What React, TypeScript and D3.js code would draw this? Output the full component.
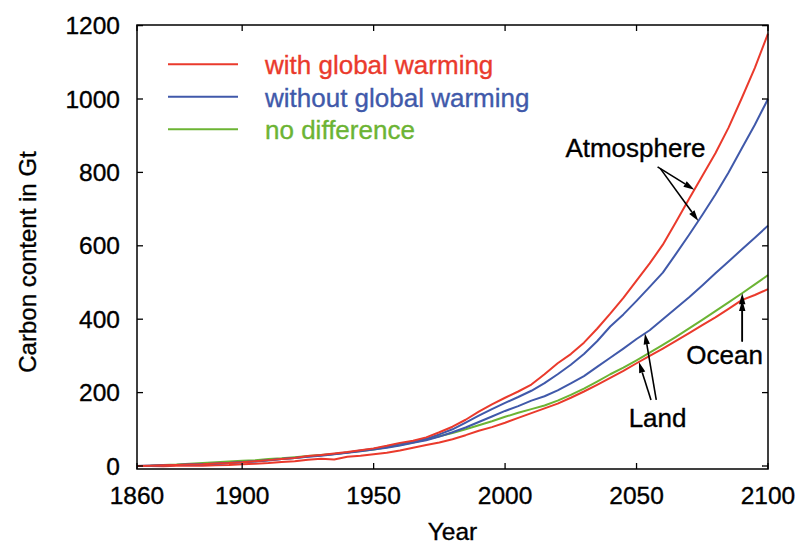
import React from "react";
import * as d3 from "d3";

// Years sampled every 5 years, 1860–2100
const years: number[] = d3.range(1860, 2101, 5);

// Carbon content (Gt) — atmosphere
const atmosWithWarming: number[] = [
  0, 1, 2, 3, 4, 5, 7, 8, 10, 13, 16, 19, 22, 27, 30, 34, 38, 43, 48, 55, 63, 69, 78, 92, 107,
  126, 148, 168, 186, 203, 222, 250, 280, 305, 336, 374, 415, 458, 505, 552, 603, 665, 728, 790,
  852, 922, 1002, 1085, 1178,
];
const atmosWithoutWarming: number[] = [
  0, 1, 2, 3, 4, 5, 6, 8, 10, 12, 15, 19, 22, 26, 29, 33, 37, 42, 47, 53, 61, 67, 74, 86, 100,
  118, 137, 155, 172, 188, 205, 226, 250, 276, 305, 340, 380, 413, 450, 488, 527, 578, 630, 684,
  740, 800, 865, 930, 1000,
];
// Land uptake without warming
const landWithoutWarming: number[] = [
  0, 1, 2, 3, 4, 5, 7, 8, 11, 13, 16, 19, 22, 25, 28, 32, 36, 40, 45, 50, 56, 63, 70, 80, 92,
  105, 120, 135, 150, 163, 178, 190, 206, 225, 245, 270, 295, 320, 346, 370, 400, 430, 460, 492,
  525, 557, 590, 622, 655,
];
// Ocean uptake (identical with and without warming)
const oceanNoDifference: number[] = [
  0, 1, 3, 4, 6, 8, 10, 12, 14, 16, 19, 21, 24, 27, 30, 33, 37, 41, 45, 51, 57, 64, 72, 81, 90,
  100, 111, 122, 134, 145, 155, 165, 178, 194, 211, 230, 250, 268, 288, 309, 330, 352, 375, 398,
  422, 446, 470, 495, 520,
];
// Land uptake with warming
const landWithWarming: number[] = [
  0, 0, -1, 1, 1, 1, 2, 3, 5, 6, 8, 11, 13, 17, 20, 18, 25, 28, 32, 36, 42, 50, 57, 64, 73,
  84, 96, 106, 118, 131, 144, 157, 170, 186, 203, 221, 240, 259, 280, 300, 320, 341, 362, 384,
  405, 428, 452, 466, 482,
];

const xTicks: number[] = [1860, 1900, 1950, 2000, 2050, 2100];
const yTicks: number[] = [0, 200, 400, 600, 800, 1000, 1200];

const legendLabels: string[] = ["with global warming", "without global warming", "no difference"];

const RED = "#ea3a2c";
const BLUE = "#4059aa";
const GREEN = "#6cb434";
const FONT = "'Liberation Sans', Arial, Helvetica, sans-serif";

const W = 800;
const H = 546;
const left = 137;
const right = 768;
const top = 25;
const bottom = 469;

const x = d3.scaleLinear().domain([1860, 2100]).range([left, right]);
const y = d3.scaleLinear().domain([0, 1200]).range([466, 25.6]);

const valueAt = (series: number[], year: number) => {
  const i = Math.min(Math.floor((year - 1860) / 5), series.length - 2);
  const t = (year - years[i]) / 5;
  return d3.interpolateNumber(series[i], series[i + 1])(t);
};

type Tip = { series: number[]; year: number };
type Arrow = { tailYear: number; tailValue: number; tip: Tip };

const arrows: Arrow[] = [
  { tailYear: 2058, tailValue: 815, tip: { series: atmosWithWarming, year: 2072 } },
  { tailYear: 2059, tailValue: 811, tip: { series: atmosWithoutWarming, year: 2073.5 } },
  { tailYear: 2055.5, tailValue: 180, tip: { series: landWithWarming, year: 2050.9 } },
  { tailYear: 2057.5, tailValue: 180, tip: { series: landWithoutWarming, year: 2053.2 } },
  { tailYear: 2090.2, tailValue: 339, tip: { series: oceanNoDifference, year: 2090.2 } },
  { tailYear: 2090.2, tailValue: 339, tip: { series: landWithWarming, year: 2090.2 } },
];

const annotations = [
  { text: "Atmosphere", year: 2049.6, value: 842 },
  { text: "Land", year: 2058, value: 107 },
  { text: "Ocean", year: 2083.5, value: 278 },
];

function ArrowMark({ a }: { a: Arrow }) {
  const x0 = x(a.tailYear);
  const y0 = y(a.tailValue);
  const x1 = x(a.tip.year);
  const y1 = y(valueAt(a.tip.series, a.tip.year));
  const ang = Math.atan2(y1 - y0, x1 - x0);
  const len = 11;
  const hw = 3.2;
  const bx = x1 - len * Math.cos(ang);
  const by = y1 - len * Math.sin(ang);
  const px = -Math.sin(ang) * hw;
  const py = Math.cos(ang) * hw;
  return (
    <g>
      <line x1={x0} y1={y0} x2={bx} y2={by} stroke="#000" strokeWidth={1.6} />
      <polygon points={`${x1},${y1} ${bx + px},${by + py} ${bx - px},${by - py}`} fill="#000" />
    </g>
  );
}

export default function App() {
  const line = d3
    .line<number>()
    .x((_, i) => x(years[i]))
    .y((v) => y(v));

  const series = [
    { data: oceanNoDifference, color: GREEN },
    { data: landWithoutWarming, color: BLUE },
    { data: landWithWarming, color: RED },
    { data: atmosWithoutWarming, color: BLUE },
    { data: atmosWithWarming, color: RED },
  ];

  const legendColors = [RED, BLUE, GREEN];
  const tick = 6;
  const heavy = { strokeWidth: 0.35, paintOrder: "stroke" as const };

  return (
    <svg
      width={W}
      height={H}
      style={{ position: "absolute", left: 0, top: 0, display: "block", background: "#fff" }}
      fontFamily={FONT}
    >
      <rect width={W} height={H} fill="#fff" />
      <g>
        {series.map((s, i) => (
          <path key={i} d={line(s.data) || ""} fill="none" stroke={s.color} strokeWidth={2} strokeLinejoin="round" />
        ))}
      </g>

      {/* frame with mirrored inward ticks */}
      <rect x={left} y={top} width={right - left} height={bottom - top} fill="none" stroke="#000" strokeWidth={1.5} />
      {xTicks.map((t) => (
        <g key={"x" + t}>
          <line x1={x(t)} x2={x(t)} y1={bottom} y2={bottom - tick} stroke="#000" strokeWidth={1.3} />
          <line x1={x(t)} x2={x(t)} y1={top} y2={top + tick} stroke="#000" strokeWidth={1.3} />
          <text x={x(t)} y={504} textAnchor="middle" fontSize={24.5} stroke="#000" {...heavy}>
            {t}
          </text>
        </g>
      ))}
      {yTicks.map((t) => (
        <g key={"y" + t}>
          <line x1={left} x2={left + tick} y1={y(t)} y2={y(t)} stroke="#000" strokeWidth={1.3} />
          <line x1={right} x2={right - tick} y1={y(t)} y2={y(t)} stroke="#000" strokeWidth={1.3} />
          <text x={120} y={y(t) + 8.5} textAnchor="end" fontSize={24.5} stroke="#000" {...heavy}>
            {t}
          </text>
        </g>
      ))}

      <text x={(left + right) / 2} y={540} textAnchor="middle" fontSize={24.5} stroke="#000" {...heavy}>
        Year
      </text>
      <text transform="translate(36,262) rotate(-90)" textAnchor="middle" fontSize={24} stroke="#000" {...heavy}>
        Carbon content in Gt
      </text>

      {/* legend */}
      {legendLabels.map((lab, i) => {
        const ly = 64.3 + i * 32.5;
        return (
          <g key={lab}>
            <line x1={168} x2={238} y1={ly} y2={ly} stroke={legendColors[i]} strokeWidth={2} />
            <text x={265} y={ly + 10} fontSize={26} fill={legendColors[i]} stroke={legendColors[i]} {...heavy}>
              {lab}
            </text>
          </g>
        );
      })}

      {/* annotations */}
      {arrows.map((a, i) => (
        <ArrowMark key={i} a={a} />
      ))}
      {annotations.map((a) => (
        <text key={a.text} x={x(a.year)} y={y(a.value)} textAnchor="middle" fontSize={26} stroke="#000" {...heavy}>
          {a.text}
        </text>
      ))}
    </svg>
  );
}
